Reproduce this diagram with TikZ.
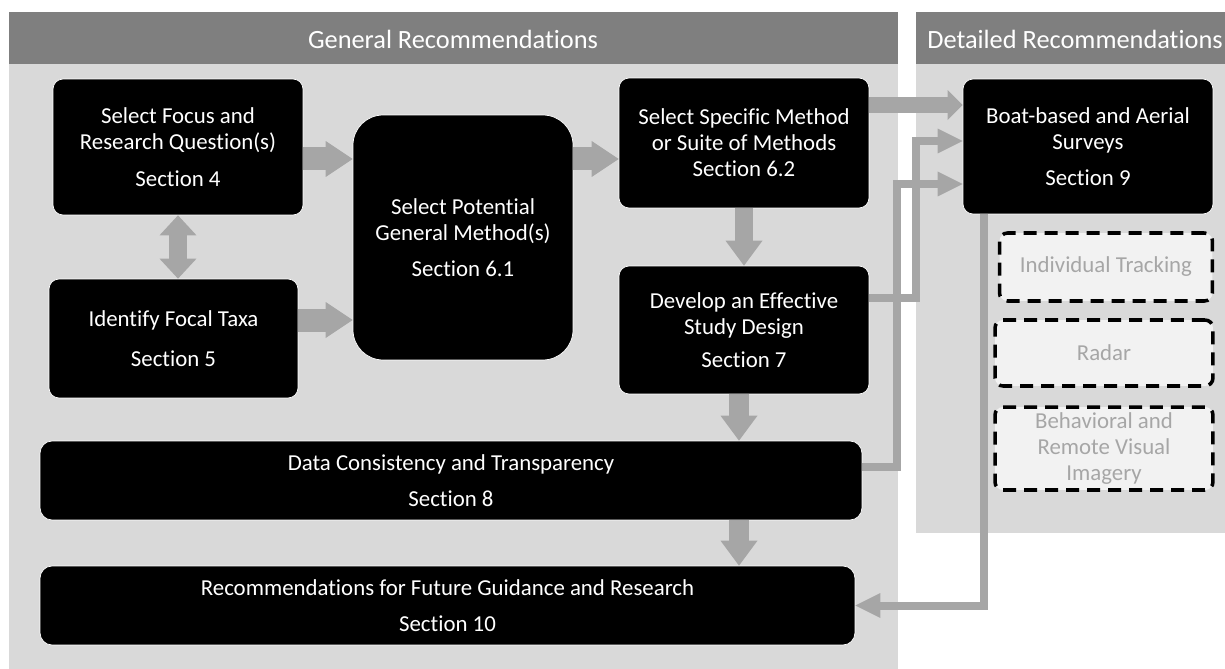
\documentclass[tikz,border=0pt]{standalone}
\usepackage{fontspec}
\setmainfont{Carlito}[RawFeature={-liga;-clig;-calt}]
\usetikzlibrary{positioning}
\usetikzlibrary{arrows.meta}

\definecolor{bandgray}{HTML}{7F7F7F}
\definecolor{panelgray}{HTML}{D9D9D9}
\definecolor{flowgray}{HTML}{A6A6A6}
\definecolor{softgray}{HTML}{F2F2F2}

\begin{document}
\begin{tikzpicture}[x=0.02cm,y=-0.02cm,
	boxfont/.style={font=\fontsize{13}{14.8}\selectfont},
	stepbox/.style={boxfont,fill=black,draw=white,line width=0.4pt,text=white,align=center,rounded corners=0.2cm,inner sep=0pt},
	laterbox/.style={boxfont,fill=softgray,draw=black,line width=2pt,dash pattern=on 0.26cm off 0.16cm,text=flowgray,align=center,rounded corners=0.16cm,inner sep=0pt},
	headtext/.style={font=\fontsize{15}{18}\selectfont,text=white},
	fatarrow/.style={draw=flowgray,line width=0.46cm,-{Triangle[width=0.72cm,length=0.54cm,line width=0pt]}},
	downarrow/.style={draw=flowgray,line width=0.4cm,-{Triangle[width=0.74cm,length=0.5cm,line width=0pt]}},
	thinarrow/.style={draw=flowgray,line width=0.16cm,line join=miter,-{Triangle[width=0.5cm,length=0.5cm,line width=0pt]}}]
	\clip (0,0) rectangle (1225,669);

	% panels and their title bands
	\fill[panelgray] (9,64) rectangle (898,669);
	\fill[bandgray] (9,12) rectangle (898,64);
	\node [headtext] at (453,39) (genhead) {General Recommendations};
	\fill[panelgray] (916,64) rectangle (1240,533);
	\fill[bandgray] (916,12) rectangle (1240,64);
	\node [headtext] at (1075,39) (dethead) {Detailed Recommendations};

	% general steps
	\node [stepbox,minimum width=5cm,minimum height=2.72cm] at (178,147) (focus) {Select Focus and\\Research Question(s)\\[6pt]Section 4};
	\node [stepbox,minimum width=4.98cm,minimum height=2.38cm] at (173.5,338.5) (taxa) {Identify Focal Taxa\\[8pt]Section 5};
	\node [stepbox,rounded corners=0.6cm,minimum width=4.4cm,minimum height=4.9cm] at (463,237.5) (general) {Select Potential\\General Method(s)\\[6pt]Section 6.1};
	\node [stepbox,minimum width=5cm,minimum height=2.6cm] at (744,143) (specific) {Select Specific Method\\or Suite of Methods\\Section 6.2};
	\node [stepbox,minimum width=5cm,minimum height=2.56cm] at (744,330) (design) {Develop an Effective\\Study Design\\[4pt]Section 7};
	\node [stepbox,rounded corners=0.24cm,minimum width=16.44cm,minimum height=1.58cm] at (451,480.5) (data) {Data Consistency and Transparency\\[6pt]Section 8};
	\node [stepbox,rounded corners=0.24cm,minimum width=16.3cm,minimum height=1.58cm] at (447.5,605.5) (future) {Recommendations for Future Guidance and Research\\[6pt]Section 10};

	% detailed methods
	\node [stepbox,minimum width=5cm,minimum height=2.7cm] at (1088,146.5) (surveys) {Boat-based and Aerial\\Surveys\\[6pt]Section 9};
	\node [laterbox,minimum width=4.26cm,minimum height=1.36cm] at (1106,267) (tracking) {Individual Tracking};
	\node [laterbox,minimum width=4.36cm,minimum height=1.32cm] at (1104,353) (radar) {Radar};
	\node [laterbox,minimum width=4.36cm,minimum height=1.66cm] at (1104,448.5) (imagery) {Behavioral and\\Remote Visual\\Imagery};

	% flow between the general steps
	\draw[fatarrow] ([yshift=-0.24cm]focus.east) -- ([yshift=-0.24cm]focus.east -| general.west);
	\draw[fatarrow] ([yshift=0.37cm]taxa.east) -- ([yshift=0.37cm]taxa.east -| general.west);
	\draw[fatarrow] ([yshift=-0.32cm]specific.west -| general.east) -- ([yshift=-0.32cm]specific.west);
	\draw[draw=flowgray,line width=0.38cm,{Triangle[width=0.74cm,length=0.4cm,line width=0pt]}-{Triangle[width=0.74cm,length=0.4cm,line width=0pt]}] (focus.south) -- (focus.south |- taxa.north);
	\draw[downarrow,line width=0.36cm] (specific.south) -- (design.north);
	\coordinate (spine) at (739,0);
	\draw[downarrow] (design.south -| spine) -- (data.north -| spine);
	\draw[downarrow] (data.south -| spine) -- (future.north -| spine);

	% links to and from the detailed part
	\coordinate (busF) at (897,0);
	\coordinate (busE) at (916,0);
	\coordinate (busH) at (984,0);
	\draw[draw=flowgray,line width=0.32cm,-{Triangle[width=0.6cm,length=0.3cm,line width=0pt]}] ([yshift=0.76cm]specific.east) -- ([yshift=0.76cm]specific.east -| surveys.west);
	\draw[thinarrow] ([yshift=0.64cm]design.east) -| ([yshift=0.11cm]surveys.west -| busE) -- ([yshift=0.11cm]surveys.west);
	\draw[thinarrow] ([yshift=0.27cm]data.east) -| ([yshift=-0.75cm]surveys.west -| busF) -- ([yshift=-0.75cm]surveys.west);
	\draw[thinarrow] (surveys.south -| busH) |- (future.east);
\end{tikzpicture}
\end{document}
